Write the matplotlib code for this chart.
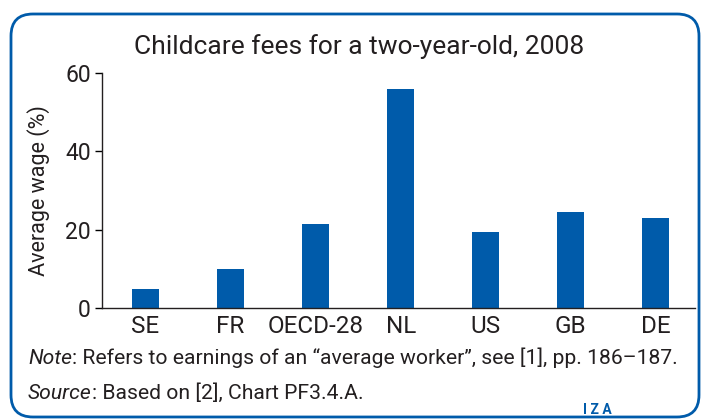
import matplotlib
matplotlib.use("Agg")
import matplotlib.pyplot as plt
from matplotlib.patches import FancyBboxPatch
from matplotlib.transforms import IdentityTransform, offset_copy

# data
countries = ["SE", "FR", "OECD-28", "NL", "US", "GB", "DE"]
fees = [4.9, 10.0, 21.5, 56.0, 19.5, 24.5, 23.0]
yticks = [0, 20, 40, 60]

blue = "#005BAA"
txt = "#231F20"
plt.rcParams["font.family"] = ["Roboto", "DejaVu Sans"]

fig = plt.figure(figsize=(7.01, 4.19), dpi=100)
ax = fig.add_axes([102 / 701, 111 / 419, 593 / 701, 235 / 419])

ax.bar(range(len(countries)), fees, width=0.32, color=blue)
ax.set_xlim(-0.51, 6.46)
ax.set_ylim(0, 60)
ax.set_yticks(yticks)
ax.set_xticks(range(len(countries)))
ax.set_xticklabels(countries)
ax.tick_params(axis="x", length=0, pad=5, labelsize=17.5, labelcolor=txt)
ax.tick_params(axis="y", length=5, width=1, pad=3, labelsize=16.5, labelcolor=txt)
ax.set_ylabel("Average wage (%)", fontsize=15.5, color=txt, labelpad=11)
for s in ["top", "right"]:
    ax.spines[s].set_visible(False)
for s in ["left", "bottom"]:
    ax.spines[s].set_color(txt)
    ax.spines[s].set_linewidth(1)

fig.text(359 / 701, 1 - 47 / 419, "Childcare fees for a two-year-old, 2008",
         ha="center", va="center", fontsize=19, color=txt)

# notes: italic label followed by plain text
renderer = fig.canvas.get_renderer()
notes = [("Note", ": Refers to earnings of an \u201caverage worker\u201d, see [1], pp. 186\u2013187.", 358),
         ("Source", ": Based on [2], Chart PF3.4.A.", 393)]
for lab, rest, ypix in notes:
    t = fig.text(28 / 701, 1 - ypix / 419, lab, ha="left", va="center",
                 fontsize=15.2, color=txt, style="italic")
    w = t.get_window_extent(renderer).width
    fig.text(28 / 701, 1 - ypix / 419, rest, ha="left", va="center", fontsize=15.2, color=txt,
             transform=offset_copy(fig.transFigure, fig=fig, x=w, y=0, units="dots"))

fig.text(597 / 701, 1 - 410 / 419, "I Z A", ha="center", va="center",
         fontsize=10, color=blue, fontweight="bold")

box = FancyBboxPatch((11, 2), 688, 403, boxstyle="round,pad=0,rounding_size=22",
                     transform=IdentityTransform(), fill=False,
                     edgecolor=blue, linewidth=2)
fig.patches.append(box)

fig.savefig("out.png", dpi=100)
